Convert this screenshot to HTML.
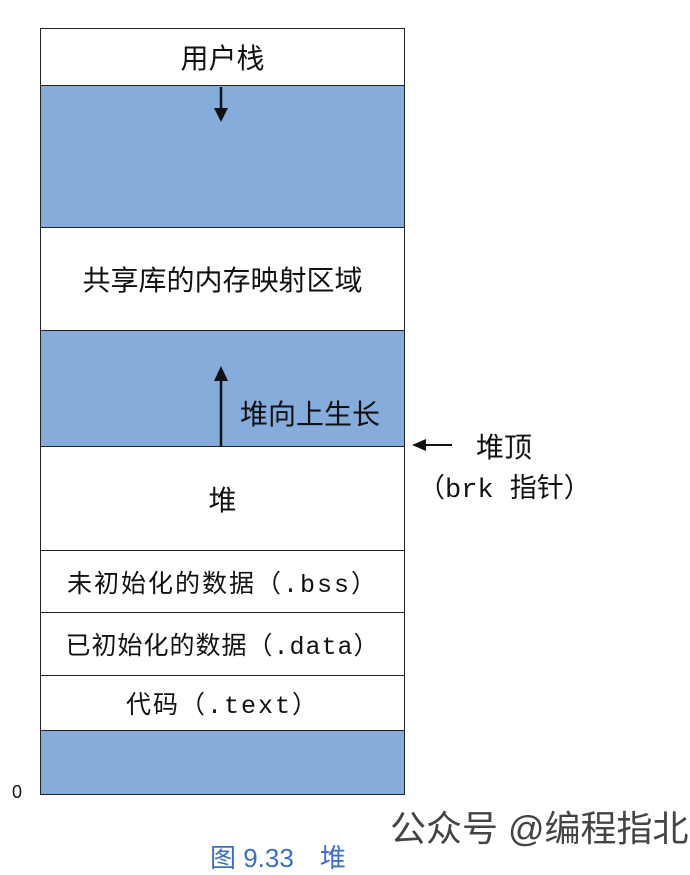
<!DOCTYPE html>
<html><head><meta charset="utf-8"><style>
body{margin:0;width:690px;height:848px;background:#fff;position:relative;overflow:hidden;font-family:"Liberation Sans","Noto Sans CJK SC",sans-serif;color:#111}
.s{position:absolute;left:40px;width:365px;border:1.5px solid #222;box-sizing:border-box;display:flex;align-items:center;justify-content:center;font-size:28px;white-space:nowrap}
.b{background:#86acdc}
.t{position:absolute;white-space:nowrap}
.m{font-family:"Liberation Mono","Noto Sans CJK SC",monospace}
.sm{font-size:25px;letter-spacing:2px}
</style></head><body>
<div class="s" style="top:28px;height:58px">用户栈</div>
<div class="s b" style="top:85px;height:143px"></div>
<div class="s" style="top:227px;height:104px">共享库的内存映射区域</div>
<div class="s b" style="top:330px;height:117px"></div>
<div class="s" style="top:446px;height:105px">堆</div>
<div class="s sm" style="top:550px;height:63px">未初始化的数据<span class="m">（.bss）</span></div>
<div class="s sm" style="top:612px;height:64px;letter-spacing:1px">已初始化的数据<span class="m">（.data）</span></div>
<div class="s sm" style="top:675px;height:56px">代码<span class="m">（.text）</span></div>
<div class="s b" style="top:730px;height:65px"></div>
<svg width="690" height="848" style="position:absolute;left:0;top:0">
<line x1="221" y1="87" x2="221" y2="110" stroke="#111" stroke-width="2.5"/>
<polygon points="214,108 228,108 221,122" fill="#111"/>
<line x1="221" y1="446" x2="221" y2="378" stroke="#111" stroke-width="2.5"/>
<polygon points="214,381 228,381 221,366" fill="#111"/>
<line x1="425" y1="445" x2="452" y2="445" stroke="#111" stroke-width="2"/>
<polygon points="412,445 426,439 426,451" fill="#111"/>
</svg>
<div class="t" style="left:240px;top:393px;font-size:28px">堆向上生长</div>
<div class="t" style="left:476px;top:426px;font-size:28px">堆顶</div>
<div class="t m" style="left:418px;top:466px;font-size:27px">（brk 指针）</div>
<div class="t" style="left:12px;top:782px;font-size:18px">0</div>
<div class="t" style="left:390px;top:800px;font-size:36px;color:#444">公众号 @编程指北</div>
<div class="t" style="left:210px;top:838px;font-size:26px;color:#3a6fc0">图 9.33　堆</div>
</body></html>
